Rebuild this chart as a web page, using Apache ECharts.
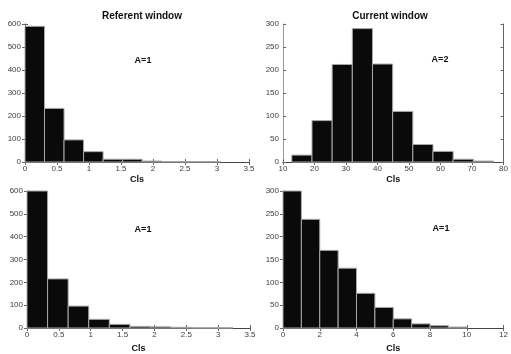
<!DOCTYPE html>
<html>
<head>
<meta charset="utf-8">
<script src="https://cdn.jsdelivr.net/npm/echarts@6/dist/echarts.min.js"></script>
<style>
  html, body { margin: 0; padding: 0; background: #fff; }
  #hist { width: 511px; height: 354px; }
</style>
</head>
<body>
<div id="hist"></div>
<script>
// bin edges and counts
var edgesRef1 = [0, 0.305, 0.61, 0.915, 1.22, 1.525, 1.83, 2.135, 2.44, 2.745, 3.05];
var countsRef1 = [590, 233, 96, 45, 12, 12, 4, 2, 2, 2];

var edgesCur1 = [12.8, 19.2, 25.6, 32.0, 38.4, 44.8, 51.2, 57.6, 64.0, 70.4, 76.8];
var countsCur1 = [15, 90, 212, 290, 213, 110, 38, 23, 6, 2];

var edgesRef2 = [0, 0.323, 0.646, 0.969, 1.292, 1.615, 1.938, 2.261, 2.584, 2.907, 3.23];
var countsRef2 = [640, 215, 96, 38, 16, 7, 5, 3, 1, 1];

var edgesCur2 = [0, 1, 2, 3, 4, 5, 6, 7, 8, 9, 10];
var countsCur2 = [330, 238, 170, 131, 76, 45, 20, 9, 5, 2];

var titles = ['Referent window', 'Current window'];
var aLabels = ['A=1', 'A=2', 'A=1', 'A=1'];
var xName = 'Cls';

var dom = document.getElementById('hist');
var myChart = echarts.init(dom, null, { renderer: 'canvas' });

function toBins(edges, counts) {
    var out = [];
    for (var i = 0; i < counts.length; i++) {
        out.push([edges[i], edges[i + 1], counts[i]]);
    }
    return out;
}

function renderBin(params, api) {
    var p0 = api.coord([api.value(0), api.value(2)]);
    var p1 = api.coord([api.value(1), 0]);
    var cs = params.coordSys;
    var shape = echarts.graphic.clipRectByRect(
        { x: p0[0], y: p0[1], width: p1[0] - p0[0], height: p1[1] - p0[1] },
        { x: cs.x, y: cs.y, width: cs.width, height: cs.height }
    );
    if (!shape) return;
    return {
        type: 'rect',
        shape: shape,
        style: { fill: '#0a0a0a', stroke: '#a8a8a8', lineWidth: 1 }
    };
}

var panels = [
    { grid: { left: 25, top: 24, width: 224, height: 138 }, x: [0, 3.5, 0.5], y: [0, 600, 100], bins: toBins(edgesRef1, countsRef1), nameGap: 13 },
    { grid: { left: 283, top: 24, width: 225, height: 138 }, x: [10, 80, 10], y: [0, 300, 50], bins: toBins(edgesCur1, countsCur1), nameGap: 13 },
    { grid: { left: 27, top: 191, width: 223, height: 138 }, x: [0, 3.5, 0.5], y: [0, 600, 100], bins: toBins(edgesRef2, countsRef2), nameGap: 16 },
    { grid: { left: 283, top: 191, width: 227, height: 138 }, x: [0, 12, 2], y: [0, 300, 50], bins: toBins(edgesCur2, countsCur2), nameGap: 16 }
];

var axisColor = '#666';
var labelStyle = { color: '#3c3c3c', fontSize: 8, fontFamily: 'Liberation Sans' };

var grids = [], xAxes = [], yAxes = [], series = [];
panels.forEach(function (p, i) {
    grids.push(p.grid);
    // bottom axis with labels
    xAxes.push({
        type: 'value', gridIndex: i, position: 'bottom',
        min: p.x[0], max: p.x[1], interval: p.x[2],
        name: xName, nameLocation: 'middle', nameGap: p.nameGap,
        nameTextStyle: { color: '#111', fontSize: 9, fontWeight: 'bold', fontFamily: 'Liberation Sans' },
        axisLine: { lineStyle: { color: axisColor } },
        axisTick: { inside: true, length: 3, lineStyle: { color: axisColor } },
        axisLabel: Object.assign({ margin: 3 }, labelStyle),
        splitLine: { show: false }
    });
    // top frame
    xAxes.push({
        type: 'value', gridIndex: i, position: 'top',
        min: p.x[0], max: p.x[1], interval: p.x[2],
        axisLine: { lineStyle: { color: '#444' } },
        axisTick: { inside: true, length: 3, lineStyle: { color: axisColor } },
        axisLabel: { show: false },
        splitLine: { show: false }
    });
    yAxes.push({
        type: 'value', gridIndex: i, position: 'left',
        min: p.y[0], max: p.y[1], interval: p.y[2],
        axisLine: { show: true, lineStyle: { color: '#999' } },
        axisTick: { show: true, inside: true, length: 3, lineStyle: { color: axisColor } },
        axisLabel: Object.assign({ margin: 4 }, labelStyle),
        splitLine: { show: false }
    });
    yAxes.push({
        type: 'value', gridIndex: i, position: 'right',
        min: p.y[0], max: p.y[1], interval: p.y[2],
        axisLine: { show: true, lineStyle: { color: axisColor } },
        axisTick: { show: true, inside: true, length: 3, lineStyle: { color: axisColor } },
        axisLabel: { show: false },
        splitLine: { show: false }
    });
    series.push({
        type: 'custom',
        xAxisIndex: i * 2,
        yAxisIndex: i * 2,
        renderItem: renderBin,
        encode: { x: [0, 1], y: 2 },
        data: p.bins,
        silent: true,
        animation: false
    });
});

var textPos = [[143, 61], [440, 60], [143, 230], [441, 229]];
var graphics = aLabels.map(function (t, i) {
    return {
        type: 'text', x: textPos[i][0], y: textPos[i][1],
        style: { text: t, fill: '#111', font: 'bold 9px "Liberation Sans"', align: 'center', verticalAlign: 'middle' }
    };
});

var option = {
    animation: false,
    title: [
        { text: titles[0], left: 137, top: 6, textAlign: 'center', textStyle: { fontSize: 10, fontWeight: 'bold', color: '#111', fontFamily: 'Liberation Sans' } },
        { text: titles[1], left: 385, top: 6, textAlign: 'center', textStyle: { fontSize: 10, fontWeight: 'bold', color: '#111', fontFamily: 'Liberation Sans' } }
    ],
    grid: grids,
    xAxis: xAxes,
    yAxis: yAxes,
    series: series,
    graphic: graphics
};

if (option && typeof option === 'object') {
    myChart.setOption(option);
}
</script>
</body>
</html>
